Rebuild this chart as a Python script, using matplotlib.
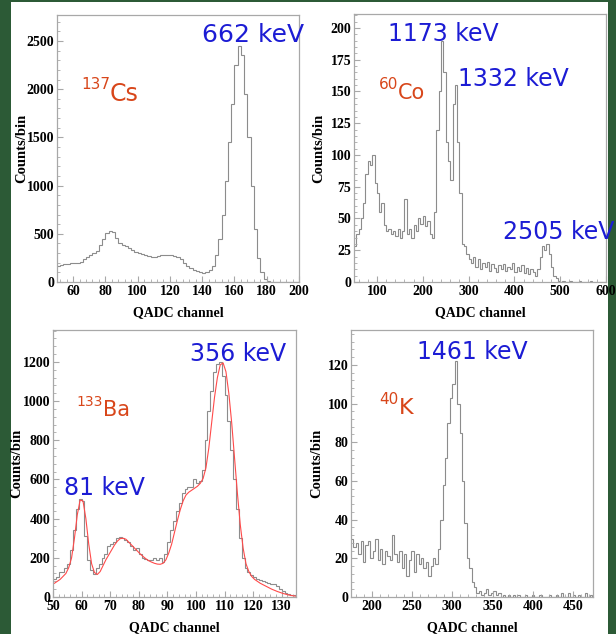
import numpy as np
import matplotlib.pyplot as plt
from matplotlib.patches import Rectangle
from matplotlib.ticker import MultipleLocator

W, H = 616, 634

# Cs-137 spectrum, bins of 2 channels starting at 50
cs_start, cs_width = 50, 2
cs_counts = [165, 175, 185, 190, 195, 200, 200, 210, 240, 260,
             280, 300, 320, 380, 450, 510, 530, 520, 460, 400,
             380, 370, 350, 330, 310, 300, 290, 280, 270, 260,
             260, 270, 280, 280, 275, 280, 270, 260, 240, 200,
             170, 150, 120, 110, 100, 95, 100, 120, 170, 280,
             450, 700, 1050, 1450, 1850, 2250, 2450, 2350, 1950, 1500,
             1000, 550, 250, 100, 30, 10, 3, 0, 0, 0,
             0, 0, 0, 0, 0]

# Co-60 spectrum, bins of 5 channels starting at 50
co_start, co_width = 50, 5
co_counts = [28, 38, 42, 50, 62, 85, 95, 92, 100, 78,
             70, 55, 62, 45, 40, 42, 38, 40, 36, 42,
             35, 40, 65, 38, 42, 35, 45, 40, 50, 46,
             52, 44, 48, 38, 35, 55, 120, 150, 190, 165,
             110, 95, 80, 140, 155, 110, 70, 30, 28, 22,
             18, 15, 20, 12, 18, 10, 15, 12, 16, 9,
             14, 11, 8, 13, 10, 14, 9, 12, 10, 15,
             8, 12, 9, 13, 7, 11, 6, 10, 8, 5,
             10, 20, 28, 25, 30, 22, 12, 5, 3, 1,
             0, 1, 0, 0, 1, 0, 0, 0, 1, 0,
             0, 0, 0, 1, 0, 0, 0, 0, 0, 0]

# Ba-133 spectrum, bins of 1 channel starting at 50
ba_start, ba_width = 50, 1
ba_counts = [90, 100, 130, 130, 150, 170, 240, 340, 450, 500,
             490, 310, 190, 140, 115, 150, 170, 200, 220, 260,
             270, 280, 300, 305, 300, 290, 280, 260, 240, 250,
             220, 200, 195, 190, 190, 200, 190, 200, 180, 220,
             280, 340, 390, 440, 480, 530, 550, 560, 560, 600,
             580, 590, 650, 800, 950, 1050, 1150, 1190, 1200, 1130,
             1030, 900, 750, 600, 450, 300, 200, 150, 130, 110,
             100, 90, 85, 80, 75, 70, 65, 65, 55, 40,
             30, 20, 15, 10, 8]
# fitted curve
ba_fit_x = [50, 52, 54, 55, 56, 57, 58, 59, 60, 61, 62, 63, 64, 65, 66, 67,
            68, 69, 70, 71, 72, 73, 74, 75, 76, 77, 78, 79, 80, 81, 82, 83,
            84, 85, 86, 87, 88, 89, 90, 91, 92, 93, 94, 95, 96, 97, 98, 99,
            100, 101, 102, 103, 104, 105, 106, 107, 108, 109, 110, 111, 112,
            113, 114, 115, 116, 117, 118, 119, 120, 122, 124, 126, 128, 130,
            132, 134, 135]
ba_fit_y = [70, 90, 120, 150, 200, 300, 420, 495, 490, 400, 270, 170, 125,
            115, 130, 160, 190, 215, 240, 265, 285, 298, 300, 295, 280, 265,
            250, 235, 220, 207, 195, 185, 178, 172, 168, 167, 172, 190, 225,
            270, 330, 390, 445, 490, 520, 535, 545, 555, 565, 580, 605, 660,
            760, 890, 1020, 1120, 1185, 1195, 1150, 1040, 890, 710, 530, 370,
            250, 170, 130, 105, 90, 70, 55, 40, 28, 18, 10, 5, 3]

# K-40 spectrum, bins of 3 channels starting at 174
k_start, k_width = 174, 3
k_counts = [30, 26, 28, 22, 29, 18, 27, 29, 20, 24,
            30, 19, 25, 17, 24, 21, 19, 32, 22, 18,
            24, 15, 22, 11, 19, 24, 13, 22, 17, 20,
            15, 18, 11, 16, 20, 17, 25, 40, 58, 72,
            90, 103, 110, 122, 100, 85, 60, 38, 20, 15,
            8, 5, 2, 3, 1, 2, 4, 1, 2, 3,
            1, 2, 0, 1, 0, 1, 0, 1, 0, 1,
            0, 0, 1, 0, 0, 1, 0, 0, 1, 0,
            0, 0, 1, 0, 0, 1, 0, 2, 0, 0,
            2, 0, 1, 0, 1, 0, 0, 2, 0, 1, 0]

GREY = '#8c8c8c'
BLUE = '#1c1cd4'
ORANGE = '#d8461a'
serif = ['Liberation Serif', 'DejaVu Serif']

fig = plt.figure(figsize=(W / 100, H / 100), dpi=100)
fig.patch.set_facecolor('#2c5a36')
fig.patches.append(Rectangle((11 / W, 0), 597 / W, 1 - 2 / H, transform=fig.transFigure,
                             facecolor='white', edgecolor='none', zorder=-10))


def make_axes(l, r, t, b, ylab_x):
    ax = fig.add_axes([l / W, 1 - b / H, (r - l) / W, (b - t) / H])
    ax.set_facecolor('white')
    for s in ax.spines.values():
        s.set_color('#a8a8a8')
        s.set_linewidth(0.9)
    ax.tick_params(which='both', direction='in', color='#a8a8a8', top=False, right=False,
                   labelsize=10, pad=2)
    ax.tick_params(which='major', length=4)
    ax.tick_params(which='minor', length=2)
    ax.set_xlabel('QADC channel', fontsize=10, fontweight='bold', family=serif, labelpad=6)
    ax.set_ylabel('Counts/bin', fontsize=10.5, fontweight='bold', family=serif, va='center')
    ax.yaxis.set_label_coords((ylab_x - l) / (r - l), 0.5)
    return ax


def draw_hist(ax, start, width, counts):
    edges = start + width * np.arange(len(counts) + 1)
    ax.stairs(counts, edges, color=GREY, lw=0.8, baseline=None)


def bold_ticks(ax):
    for lab in ax.get_xticklabels() + ax.get_yticklabels():
        lab.set_fontfamily(serif)
        lab.set_fontweight('bold')


def ftext(x, y, s, **kw):
    fig.text(x / W, 1 - y / H, s, **kw)


def isotope(x, y, mass, name, size, ssize):
    ftext(x, y, name, color=ORANGE, fontsize=size, ha='left', va='center')
    ftext(x, y - size * 0.55, mass, color=ORANGE, fontsize=ssize, ha='right', va='center')


# 137Cs
ax1 = make_axes(57, 299, 15, 282, 22)
draw_hist(ax1, cs_start, cs_width, cs_counts)
ax1.set_xlim(50, 200)
ax1.set_ylim(0, 2770)
ax1.xaxis.set_major_locator(MultipleLocator(20))
ax1.xaxis.set_minor_locator(MultipleLocator(4))
ax1.yaxis.set_major_locator(MultipleLocator(500))
ax1.yaxis.set_minor_locator(MultipleLocator(100))
bold_ticks(ax1)

# 60Co
ax2 = make_axes(354, 606, 14, 282, 319)
draw_hist(ax2, co_start, co_width, co_counts)
ax2.set_xlim(50, 600)
ax2.set_ylim(0, 211)
ax2.xaxis.set_major_locator(MultipleLocator(100))
ax2.xaxis.set_minor_locator(MultipleLocator(20))
ax2.yaxis.set_major_locator(MultipleLocator(25))
ax2.yaxis.set_minor_locator(MultipleLocator(5))
bold_ticks(ax2)

# 133Ba
ax3 = make_axes(53, 296, 330, 597, 17)
draw_hist(ax3, ba_start, ba_width, ba_counts)
ax3.plot(np.array(ba_fit_x) + 0.5, ba_fit_y, color='#ff4a4a', lw=0.8)
ax3.set_xlim(50, 135)
ax3.set_ylim(0, 1363)
ax3.xaxis.set_major_locator(MultipleLocator(10))
ax3.xaxis.set_minor_locator(MultipleLocator(2))
ax3.yaxis.set_major_locator(MultipleLocator(200))
ax3.yaxis.set_minor_locator(MultipleLocator(40))
bold_ticks(ax3)

# 40K
ax4 = make_axes(351, 593, 330, 597, 317)
draw_hist(ax4, k_start, k_width, k_counts)
ax4.set_xlim(174, 475)
ax4.set_ylim(0, 138)
ax4.xaxis.set_major_locator(MultipleLocator(50))
ax4.xaxis.set_minor_locator(MultipleLocator(10))
ax4.yaxis.set_major_locator(MultipleLocator(20))
ax4.yaxis.set_minor_locator(MultipleLocator(4))
bold_ticks(ax4)

# peak labels
ftext(253, 35, '662 keV', color=BLUE, fontsize=18, ha='center', va='center')
ftext(443, 34, '1173 keV', color=BLUE, fontsize=17, ha='center', va='center')
ftext(513, 79, '1332 keV', color=BLUE, fontsize=17, ha='center', va='center')
ftext(503, 232, '2505 keV', color=BLUE, fontsize=17, ha='left', va='center')
ftext(238, 354, '356 keV', color=BLUE, fontsize=17, ha='center', va='center')
ftext(104, 488, '81 keV', color=BLUE, fontsize=17, ha='center', va='center')
ftext(472, 352, '1461 keV', color=BLUE, fontsize=17, ha='center', va='center')

isotope(110, 94, '137', 'Cs', 17, 11)
isotope(398, 93, '60', 'Co', 15, 11)
isotope(103, 410, '133', 'Ba', 15, 10)
isotope(399, 408, '40', 'K', 16, 11)

fig.savefig('out.png', dpi=100, facecolor=fig.get_facecolor())
